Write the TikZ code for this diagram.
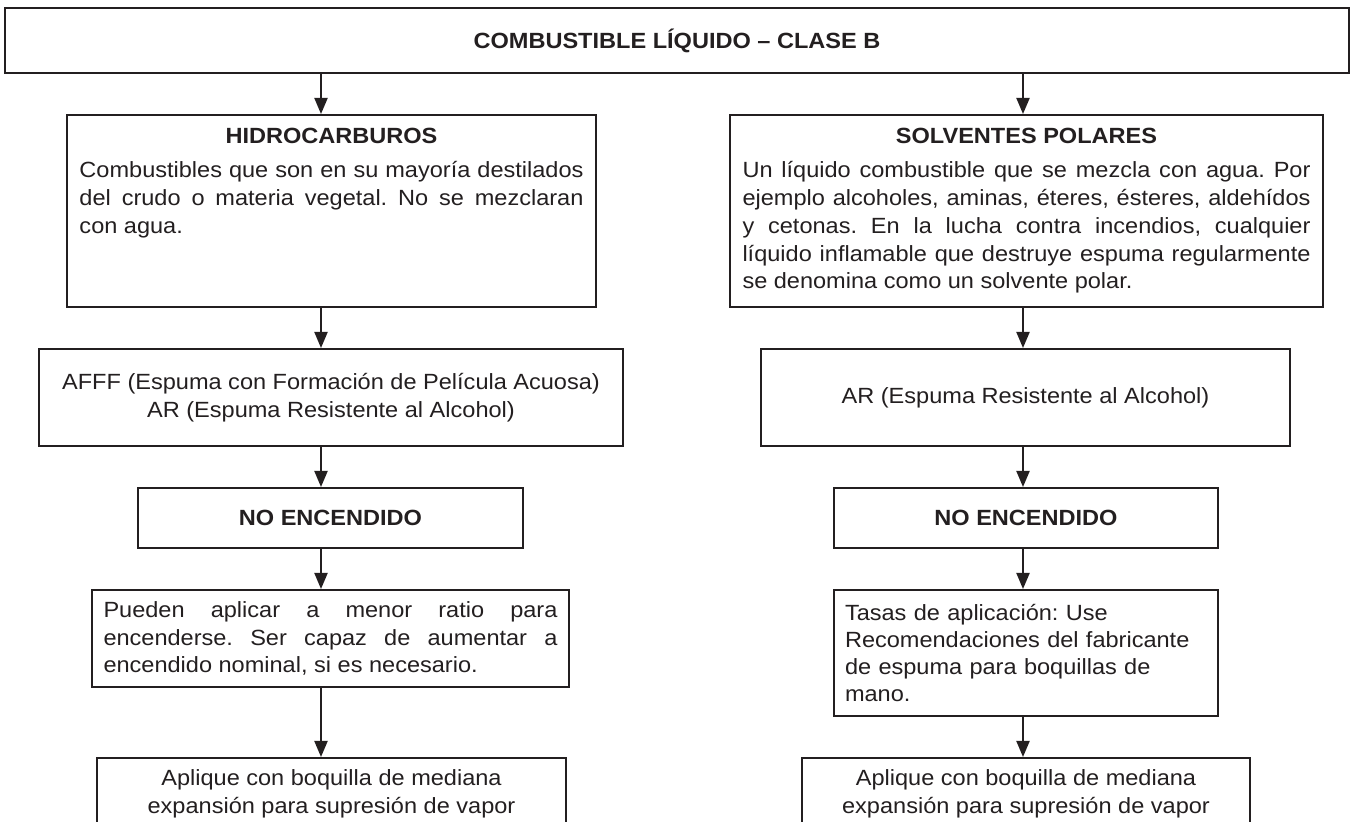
\documentclass[tikz,border=0pt]{standalone}
\usepackage{fontspec}
\setmainfont[FakeStretch=1.07]{Liberation Sans}
\usetikzlibrary{arrows.meta}
\definecolor{ink}{HTML}{231F20}
\tolerance=9999
\frenchspacing

\begin{document}
\begin{tikzpicture}[x=0.5pt,y=-0.5pt,
  box/.style={draw=ink, line width=1pt, text=ink, inner sep=0pt,
    font=\fontsize{11}{13.9}\selectfont},
  arr/.style={draw=ink, line width=1pt, -{Triangle[length=8pt,width=6.5pt]}}]
  \useasboundingbox (0,0) rectangle (1356,822);
  \fill[white] (0,0) rectangle (1356,822);
  \clip (0,0) rectangle (1356,822);
  \coordinate (colL) at (321,0); % arrow columns
  \coordinate (colR) at (1023,0);

  \node[box, minimum width=672pt, minimum height=32.5pt] (top) at (677,40.5)
    {\bfseries COMBUSTIBLE LÍQUIDO – CLASE B};

  % left column
  \node[box, text width=252pt, align=justify, minimum width=264.5pt, minimum height=96pt] (hidro) at (331.5,211)
    {\centerline{\bfseries HIDROCARBUROS}\vskip3pt
     Combustibles que son en su mayoría destilados\linebreak
     del crudo o materia vegetal. No se mezclaran\linebreak
     con agua.\par\kern2\baselineskip};
  \node[box, align=center, minimum width=292pt, minimum height=48.5pt] (afff) at (331,397.5)
    {AFFF (Espuma con Formación de Película Acuosa)\\ AR (Espuma Resistente al Alcohol)};
  \node[box, minimum width=192.5pt, minimum height=30pt] (noencL) at (330.5,518)
    {\bfseries NO ENCENDIDO};
  \node[box, text width=227pt, align=justify, minimum width=238.5pt, minimum height=48.5pt] (pueden) at (330.5,638.5)
    {Pueden aplicar a menor ratio para\linebreak
     encenderse. Ser capaz de aumentar a\linebreak
     encendido nominal, si es necesario.};
  \node[box, align=center, anchor=north, minimum width=234.5pt, inner ysep=6pt, text depth=30pt] (aplL) at (331.5,757)
    {Aplique con boquilla de mediana\\ expansión para supresión de vapor};

  % right column
  \node[box, text width=284pt, align=justify, minimum width=296.5pt, minimum height=96pt] (solv) at (1026.5,211)
    {\centerline{\bfseries SOLVENTES POLARES}\vskip3pt
     Un líquido combustible que se mezcla con agua. Por\linebreak
     ejemplo alcoholes, aminas, éteres, ésteres, aldehídos\linebreak
     y cetonas. En la lucha contra incendios, cualquier\linebreak
     líquido inflamable que destruye espuma regularmente\linebreak
     se denomina como un solvente polar.};
  \node[box, minimum width=264.5pt, minimum height=48.5pt] (ar) at (1025.5,397.5)
    {AR (Espuma Resistente al Alcohol)};
  \node[box, minimum width=192pt, minimum height=30pt] (noencR) at (1026,518)
    {\bfseries NO ENCENDIDO};
  \node[box, text width=181pt, align=left, minimum width=192pt, minimum height=63pt,
    font=\fontsize{11}{13.4}\selectfont] (tasas) at (1026,653)
    {Tasas de aplicación: Use\\ Recomendaciones del fabricante\\ de espuma para boquillas de\\ mano.};
  \node[box, align=center, anchor=north, minimum width=224pt, inner ysep=6pt, text depth=30pt] (aplR) at (1026,757)
    {Aplique con boquilla de mediana\\ expansión para supresión de vapor};

  \foreach \a/\b in {top/hidro, hidro/afff, afff/noencL, noencL/pueden, pueden/aplL}
    \draw[arr] (\a.south -| colL) -- (\b.north -| colL);
  \foreach \a/\b in {top/solv, solv/ar, ar/noencR, noencR/tasas, tasas/aplR}
    \draw[arr] (\a.south -| colR) -- (\b.north -| colR);
\end{tikzpicture}
\end{document}
